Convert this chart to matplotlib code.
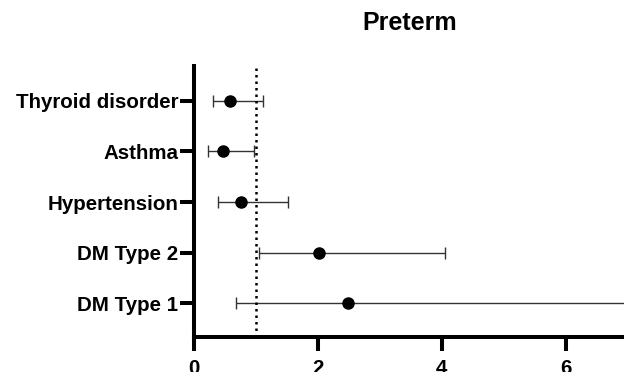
import matplotlib
matplotlib.use("Agg")
import matplotlib.pyplot as plt
import numpy as np

plt.rcParams['font.family'] = ['Liberation Sans', 'DejaVu Sans']

categories = ["DM Type 1", "DM Type 2", "Hypertension", "Asthma", "Thyroid disorder"]
estimates = [2.49, 2.01, 0.75, 0.46, 0.58]
lower = [0.67, 1.05, 0.38, 0.23, 0.30]
upper = [8.5, 4.05, 1.52, 0.96, 1.12]
xticks = [0, 2, 4, 6]

fig = plt.figure(figsize=(6.24, 3.72), dpi=100)
ax = fig.add_axes([0.311, 0.094, 0.689, 0.7286])

y = np.arange(len(categories))
est = np.array(estimates)
xerr = [est - np.array(lower), np.array(upper) - est]
ax.errorbar(est, y, xerr=xerr, fmt='o', color='black', ecolor='#333333',
            elinewidth=1.0, capsize=4.5, capthick=1.0, markersize=8, clip_on=True)
ax.axvline(1, color='black', linestyle=(0, (1, 1.6)), linewidth=1.8)

ax.set_xlim(0, 6.94)
ax.set_ylim(-0.67, 4.69)
ax.set_xticks(xticks)
ax.set_xticklabels([str(t) for t in xticks], fontweight='bold', fontsize=14.8)
ax.set_yticks(y)
ax.set_yticklabels(categories, fontweight='bold', fontsize=14.8)
for s in ['top', 'right']:
    ax.spines[s].set_visible(False)
for s in ['left', 'bottom']:
    ax.spines[s].set_linewidth(2.9)
ax.tick_params(axis='y', length=10, width=2.9, pad=1.5)
ax.tick_params(axis='x', length=10, width=2.9, pad=6)
fig.text(0.656, 0.938, "Preterm", fontweight='bold', fontsize=18, ha='center', va='center')

fig.savefig("out.png", dpi=100)
